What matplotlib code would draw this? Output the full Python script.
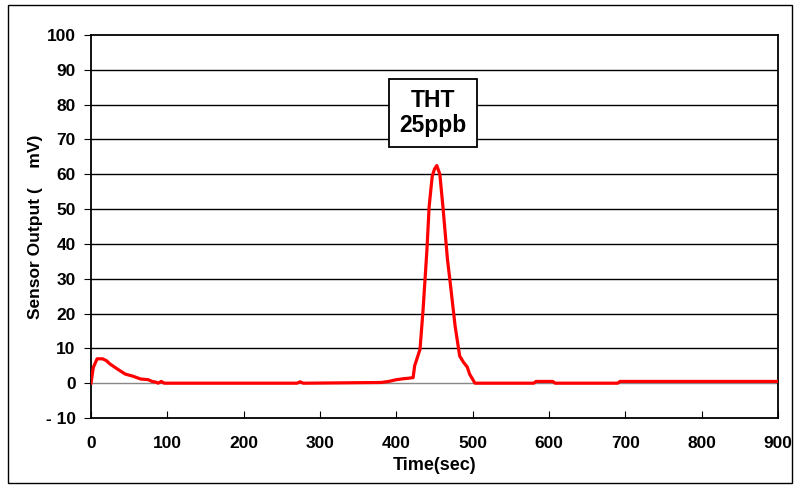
import matplotlib.pyplot as plt
from matplotlib.patches import Rectangle

plt.rcParams['font.family'] = ['Liberation Sans', 'DejaVu Sans']

# sensor response
time_sec = [0, 3, 8, 15, 20, 25, 35, 45, 55, 65, 75, 80, 85, 88, 92, 96,
            270, 274, 278, 282, 380, 390, 400, 410, 415, 422, 424, 431, 435,
            440, 443, 447, 450, 453, 457, 461, 467, 470, 477, 483, 488, 493,
            496, 503, 580, 583, 605, 608, 690, 693, 900]
output_mv = [0, 4.5, 7, 7, 6.5, 5.5, 4, 2.6, 2, 1.2, 1, 0.5, 0.3, 0, 0.5, 0,
             0, 0.4, 0, 0, 0.2, 0.5, 1, 1.3, 1.4, 1.6, 5, 9.7, 21,
             38, 50.8, 59.4, 61.5, 62.5, 60, 50.8, 35.5, 30, 16.4, 7.8, 6, 4.6,
             2.6, 0, 0, 0.5, 0.5, 0, 0, 0.5, 0.5]

y_ticks = list(range(-10, 101, 10))
y_tick_labels = ["- 10"] + [str(v) for v in y_ticks[1:]]
x_ticks = list(range(0, 901, 100))
label_text = "THT\n25ppb"

fig = plt.figure(figsize=(7.96, 4.88), dpi=100)
ax = fig.add_axes([91 / 796, 1 - 418 / 488, (778 - 91) / 796, (418 - 35) / 488])

#gridlines
for yv in y_ticks[1:-1]:
    ax.axhline(yv, color='#888888' if yv == 0 else 'black', lw=1.0, zorder=1)

ax.plot(time_sec, output_mv, color='#ff0000', lw=2.3, zorder=3)

ax.set_xlim(0, 900)
ax.set_ylim(-10, 100)
ax.set_xticks(x_ticks)
ax.set_yticks(y_ticks)
ax.set_yticklabels(y_tick_labels)
ax.tick_params(axis='x', direction='in', length=5, labelsize=12.5, pad=13)
ax.tick_params(axis='y', direction='out', length=5, labelsize=12.5, pad=6)
for lab in ax.get_xticklabels() + ax.get_yticklabels():
    lab.set_fontweight('bold')
for sp in ax.spines.values():
    sp.set_linewidth(1.3)

ax.set_xlabel("Time(sec)", fontsize=13, fontweight='bold', labelpad=4)
ax.set_ylabel("Sensor Output (    mV)", fontsize=12.5, fontweight='bold', labelpad=2)

ax.text(448, 77.6, label_text, ha='center', va='center', fontsize=16.5,
        fontweight='bold', linespacing=1.1, zorder=5,
        bbox=dict(boxstyle='square,pad=0.45', fc='white', ec='black', lw=1.3))

#outer frame
fig.patches.append(Rectangle((8 / 796, 1 - 483 / 488), (792 - 8) / 796, (483 - 5) / 488,
                             transform=fig.transFigure, fill=False, ec='black', lw=1.0))

fig.savefig("out.png", dpi=100)
